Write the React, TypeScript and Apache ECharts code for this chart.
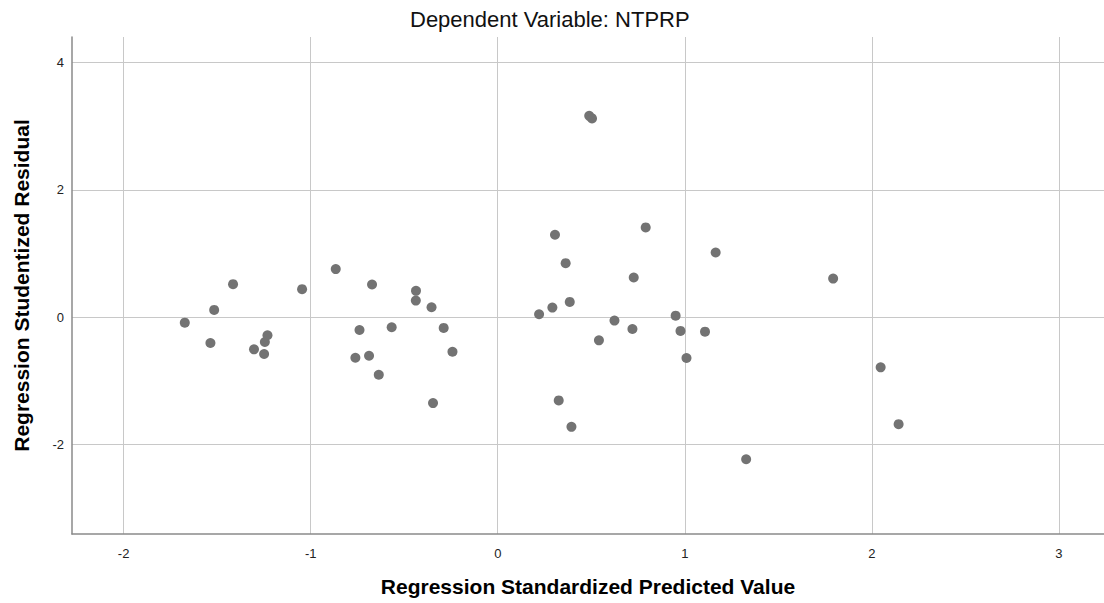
import React, { useEffect, useRef } from "react";
import * as echarts from "echarts";

const chartTitle = "Dependent Variable: NTPRP";
const xAxisName = "Regression Standardized Predicted Value";
const yAxisName = "Regression Studentized Residual";

const predicted = [
  -1.673, -1.516, -1.536, -1.415, -1.303, -1.245, -1.231, -1.249, -1.046, -0.866,
  -0.672, -0.437, -0.438, -0.354, -0.739, -0.567, -0.289, -0.242, -0.761, -0.688,
  -0.636, -0.346, 0.306, 0.791, 1.165, 0.363, 0.727, 0.385, 0.292, 0.221,
  0.624, 0.951, 0.72, 0.977, 1.108, 0.541, 1.009, 0.326, 0.394, 0.489,
  0.504, 1.793, 2.047, 2.143, 1.328,
];
const residual = [
  -0.085, 0.115, -0.404, 0.519, -0.503, -0.388, -0.283, -0.577, 0.44, 0.755,
  0.513, 0.414, 0.261, 0.157, -0.2, -0.157, -0.168, -0.541, -0.635, -0.604,
  -0.903, -1.347, 1.294, 1.409, 1.016, 0.849, 0.623, 0.241, 0.151, 0.047,
  -0.053, 0.025, -0.184, -0.215, -0.226, -0.362, -0.64, -1.305, -1.72, 3.16,
  3.12, 0.607, -0.786, -1.678, -2.228,
];

const xMin = -2.276;
const xMax = 3.241;
const yMin = -3.401;
const yMax = 4.397;

const FONT = "Arial, 'Liberation Sans', sans-serif";

const intLabel = (v: number) => (Math.abs(v - Math.round(v)) < 1e-9 ? String(Math.round(v)) : "");

export default function App() {
  const ref = useRef<HTMLDivElement>(null);
  useEffect(() => {
    if (!ref.current) return;
    const chart = echarts.init(ref.current, undefined, { renderer: "svg" });
    const points = predicted.map((x, i) => [x, residual[i]]);
    chart.setOption({
      animation: false,
      backgroundColor: "#ffffff",
      title: {
        text: chartTitle,
        left: 410,
        top: 8,
        padding: 0,
        textStyle: { fontFamily: FONT, fontSize: 22, fontWeight: "normal", color: "#111" },
      },
      grid: { left: 72, right: 0, top: 37, bottom: 69, containLabel: false },
      xAxis: {
        type: "value",
        min: xMin,
        max: xMax,
        minInterval: 1,
        maxInterval: 1,
        name: xAxisName,
        nameLocation: "middle",
        nameGap: 42,
        nameTextStyle: { fontFamily: FONT, fontSize: 21, fontWeight: "bold", color: "#000" },
        axisLine: { show: true, onZero: false, lineStyle: { color: "#8a8a8a", width: 1.5 } },
        axisTick: { show: false },
        axisLabel: {
          showMinLabel: false,
          showMaxLabel: false,
          formatter: intLabel,
          margin: 13,
          fontFamily: FONT,
          fontSize: 13,
          color: "#222",
        },
        splitLine: { show: true, showMinLine: false, showMaxLine: false, lineStyle: { color: "#c8c8c8", width: 1 } },
      },
      yAxis: {
        type: "value",
        min: yMin,
        max: yMax,
        minInterval: 2,
        maxInterval: 2,
        name: yAxisName,
        nameLocation: "middle",
        nameGap: 40,
        nameTextStyle: { fontFamily: FONT, fontSize: 21, fontWeight: "bold", color: "#000" },
        axisLine: { show: true, onZero: false, lineStyle: { color: "#8a8a8a", width: 1.5 } },
        axisTick: { show: false },
        axisLabel: {
          showMinLabel: false,
          showMaxLabel: false,
          formatter: intLabel,
          margin: 8,
          fontFamily: FONT,
          fontSize: 13,
          color: "#222",
        },
        splitLine: { show: true, showMinLine: false, showMaxLine: false, lineStyle: { color: "#c8c8c8", width: 1 } },
      },
      series: [
        {
          type: "scatter",
          data: points,
          symbol: "circle",
          symbolSize: 10,
          itemStyle: { color: "#737373", opacity: 1 },
          silent: true,
        },
      ],
    });
    return () => chart.dispose();
  }, []);
  return (
    <div
      ref={ref}
      style={{ position: "fixed", left: 0, top: 0, width: 1104, height: 603, background: "#fff" }}
    />
  );
}
